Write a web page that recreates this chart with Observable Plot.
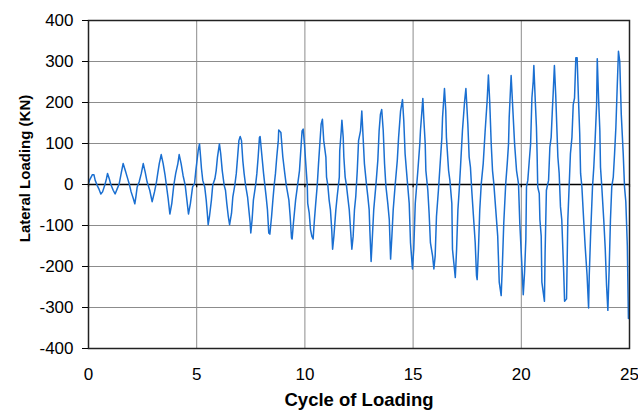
<!DOCTYPE html>
<html><head><meta charset="utf-8">
<script src="https://cdn.jsdelivr.net/npm/d3@7"></script>
<script src="https://cdn.jsdelivr.net/npm/@observablehq/plot@0.6"></script>
<style>body{margin:0;background:#fff;}</style>
</head><body><div id="chart"></div>
<script>
const cycle = [
0,0.06,0.18,0.25,0.31,0.40,0.49,0.57,0.65,0.75,0.83,0.88,0.96,1.02,1.14,1.23,1.33,1.42,1.51,1.60,
1.70,1.79,1.88,1.97,2.07,2.14,2.19,2.25,2.34,2.44,2.53,2.62,2.71,2.83,2.94,3.05,3.14,3.20,3.27,3.36,
3.45,3.54,3.60,3.68,3.76,3.85,3.94,4.03,4.13,4.19,4.28,4.37,4.47,4.53,4.62,4.71,4.81,4.90,4.96,5.07,
5.13,5.18,5.22,5.28,5.37,5.44,5.49,5.53,5.59,5.68,5.74,5.84,5.90,5.96,6.05,6.11,6.18,6.27,6.33,6.39,
6.46,6.52,6.61,6.67,6.76,6.83,6.89,6.95,7.01,7.07,7.13,7.19,7.26,7.35,7.41,7.47,7.50,7.56,7.62,7.72,
7.78,7.84,7.90,7.93,7.99,8.09,8.15,8.21,8.27,8.33,8.38,8.46,8.52,8.58,8.64,8.70,8.77,8.79,8.89,8.98,
9.07,9.14,9.26,9.32,9.38,9.41,9.47,9.57,9.66,9.75,9.81,9.87,9.92,9.98,10.04,10.11,10.13,10.20,10.26,10.32,
10.38,10.44,10.50,10.57,10.63,10.69,10.75,10.81,10.87,10.97,11.00,11.06,11.12,11.18,11.24,11.28,11.34,11.43,11.49,11.59,
11.61,11.68,11.71,11.77,11.80,11.86,11.92,11.98,12.05,12.11,12.17,12.23,12.29,12.35,12.42,12.48,12.57,12.63,12.69,12.75,
12.85,12.91,12.97,13.00,13.06,13.12,13.18,13.28,13.37,13.43,13.49,13.55,13.62,13.68,13.74,13.83,13.90,13.96,14.02,14.08,
14.17,14.27,14.33,14.42,14.51,14.57,14.63,14.73,14.82,14.88,14.97,15.03,15.10,15.16,15.22,15.31,15.34,15.45,15.50,15.56,
15.59,15.68,15.74,15.80,15.90,15.96,16.02,16.08,16.17,16.23,16.33,16.36,16.45,16.51,16.54,16.64,16.70,16.79,16.82,16.88,
16.95,17.01,17.07,17.13,17.19,17.28,17.38,17.44,17.53,17.59,17.65,17.71,17.81,17.87,17.93,17.96,18.02,18.08,18.15,18.24,
18.33,18.42,18.48,18.54,18.61,18.67,18.73,18.82,18.91,18.98,19.07,19.13,19.19,19.28,19.35,19.41,19.44,19.53,19.59,19.69,
19.78,19.87,19.93,20.02,20.09,20.15,20.21,20.24,20.30,20.37,20.43,20.46,20.49,20.55,20.58,20.64,20.70,20.73,20.76,20.83,
20.86,20.92,20.95,21.07,21.10,21.16,21.26,21.32,21.38,21.44,21.47,21.53,21.59,21.69,21.75,21.81,21.87,21.96,22.00,22.09,
22.15,22.21,22.27,22.34,22.40,22.46,22.52,22.58,22.64,22.70,22.74,22.80,22.89,22.95,23.04,23.11,23.14,23.20,23.29,23.35,
23.41,23.48,23.51,23.57,23.63,23.66,23.72,23.81,23.88,23.94,24.00,24.06,24.12,24.18,24.25,24.31,24.37,24.43,24.49,24.55,
24.62,24.71,24.77,24.83,24.90,24.95
];
const load = [
2,12,24,24,10,-2,-12,-23,-18,-2,14,27,14,2,-14,-23,-10,2,27,51,
34,18,2,-18,-34,-47,-30,-6,6,27,51,30,6,-14,-42,-18,6,27,51,73,
51,22,-2,-34,-72,-46,-2,27,51,73,51,22,-2,-30,-72,-46,-6,2,34,83,
99,67,39,10,-6,-38,-70,-98,-78,-38,-2,14,34,67,99,75,34,-2,-14,-46,
-78,-98,-70,-30,-2,27,67,107,117,107,59,27,-2,-30,-62,-94,-118,-86,-38,-2,
27,67,115,117,83,27,-2,-30,-62,-118,-121,-78,-38,-2,27,67,107,133,127,67,
27,-2,-38,-78,-130,-133,-94,-38,-2,34,83,131,135,99,51,-2,-46,-70,-110,-126,
-133,-86,-46,-2,51,99,147,159,107,67,18,-2,-38,-62,-110,-158,-126,-62,-30,18,
83,131,157,115,67,18,-2,-30,-62,-110,-158,-126,-62,-30,34,107,131,179,115,51,
-2,-30,-62,-110,-188,-126,-62,-2,59,131,171,183,131,51,-2,-46,-86,-182,-126,-62,
-2,59,115,179,207,155,75,10,-46,-142,-206,-158,-46,-6,34,99,131,210,155,99,
34,-14,-70,-142,-174,-206,-174,-78,-14,34,115,163,234,179,115,34,10,-46,-158,-190,
-227,-158,-62,-14,42,131,203,234,147,67,42,-14,-94,-142,-222,-232,-158,-62,2,51,
131,203,267,203,99,34,2,-62,-126,-238,-271,-190,-94,2,51,99,163,266,203,99,
34,2,-94,-190,-269,-215,-134,-6,10,59,99,155,211,251,290,211,139,75,-6,-22,
-86,-126,-238,-285,-166,-14,10,91,115,187,219,290,219,67,27,-54,-86,-215,-285,-279,
-86,-6,75,115,195,211,309,309,211,123,27,-6,-94,-150,-222,-301,-222,-126,-6,42,
107,195,307,211,131,42,-6,-86,-158,-246,-307,-206,-86,-6,18,75,139,235,325,300,
171,75,-6,-42,-150,-327
];
const xTicks = [0,5,10,15,20,25];
const yTicks = [-400,-300,-200,-100,0,100,200,300,400];
const xTitle = "Cycle of Loading";
const yTitle = "Lateral Loading (KN)";

const data = cycle.map((c, i) => ({cycle: c, load: load[i]}));

const plot = Plot.plot({
  width: 638, height: 415,
  marginLeft: 88, marginRight: 9, marginTop: 20, marginBottom: 67,
  style: {fontFamily: "'Liberation Sans', Arial, sans-serif", fontSize: "17px", background: "#fff", color: "#000"},
  x: {domain: [0, 25]},
  y: {domain: [-400, 400]},
  marks: [
    Plot.gridX(xTicks, {stroke: "#8c8c8c", strokeOpacity: 1, strokeWidth: 1}),
    Plot.gridY(yTicks, {stroke: "#8c8c8c", strokeOpacity: 1, strokeWidth: 1}),
    Plot.ruleY([0], {stroke: "#000", strokeWidth: 1.5}),
    Plot.ruleX(xTicks, {x: d => d, y1: 0, y2: -8, stroke: "#000", strokeWidth: 1.2}),
    Plot.line(data, {x: "cycle", y: "load", stroke: "#1a6fd1", strokeWidth: 1.5}),
    Plot.frame({stroke: "#222", strokeWidth: 1.5}),
    Plot.axisX(xTicks, {tickSize: 0, tickPadding: 19, label: null, fontSize: 17, tickFormat: d => String(d)}),
    Plot.axisY(yTicks, {tickSize: 6, tickPadding: 9, label: null, fontSize: 17, tickFormat: d => String(d)}),
    Plot.text([xTitle], {text: d => d, frameAnchor: "bottom", dy: 57, fontWeight: "bold", fontSize: 18.5}),
    Plot.text([yTitle], {text: d => d, frameAnchor: "left", textAnchor: "middle", dx: -63, dy: -16, rotate: -90, fontWeight: "bold", fontSize: 15})
  ]
});
document.getElementById("chart").appendChild(plot);
</script>
</body></html>
